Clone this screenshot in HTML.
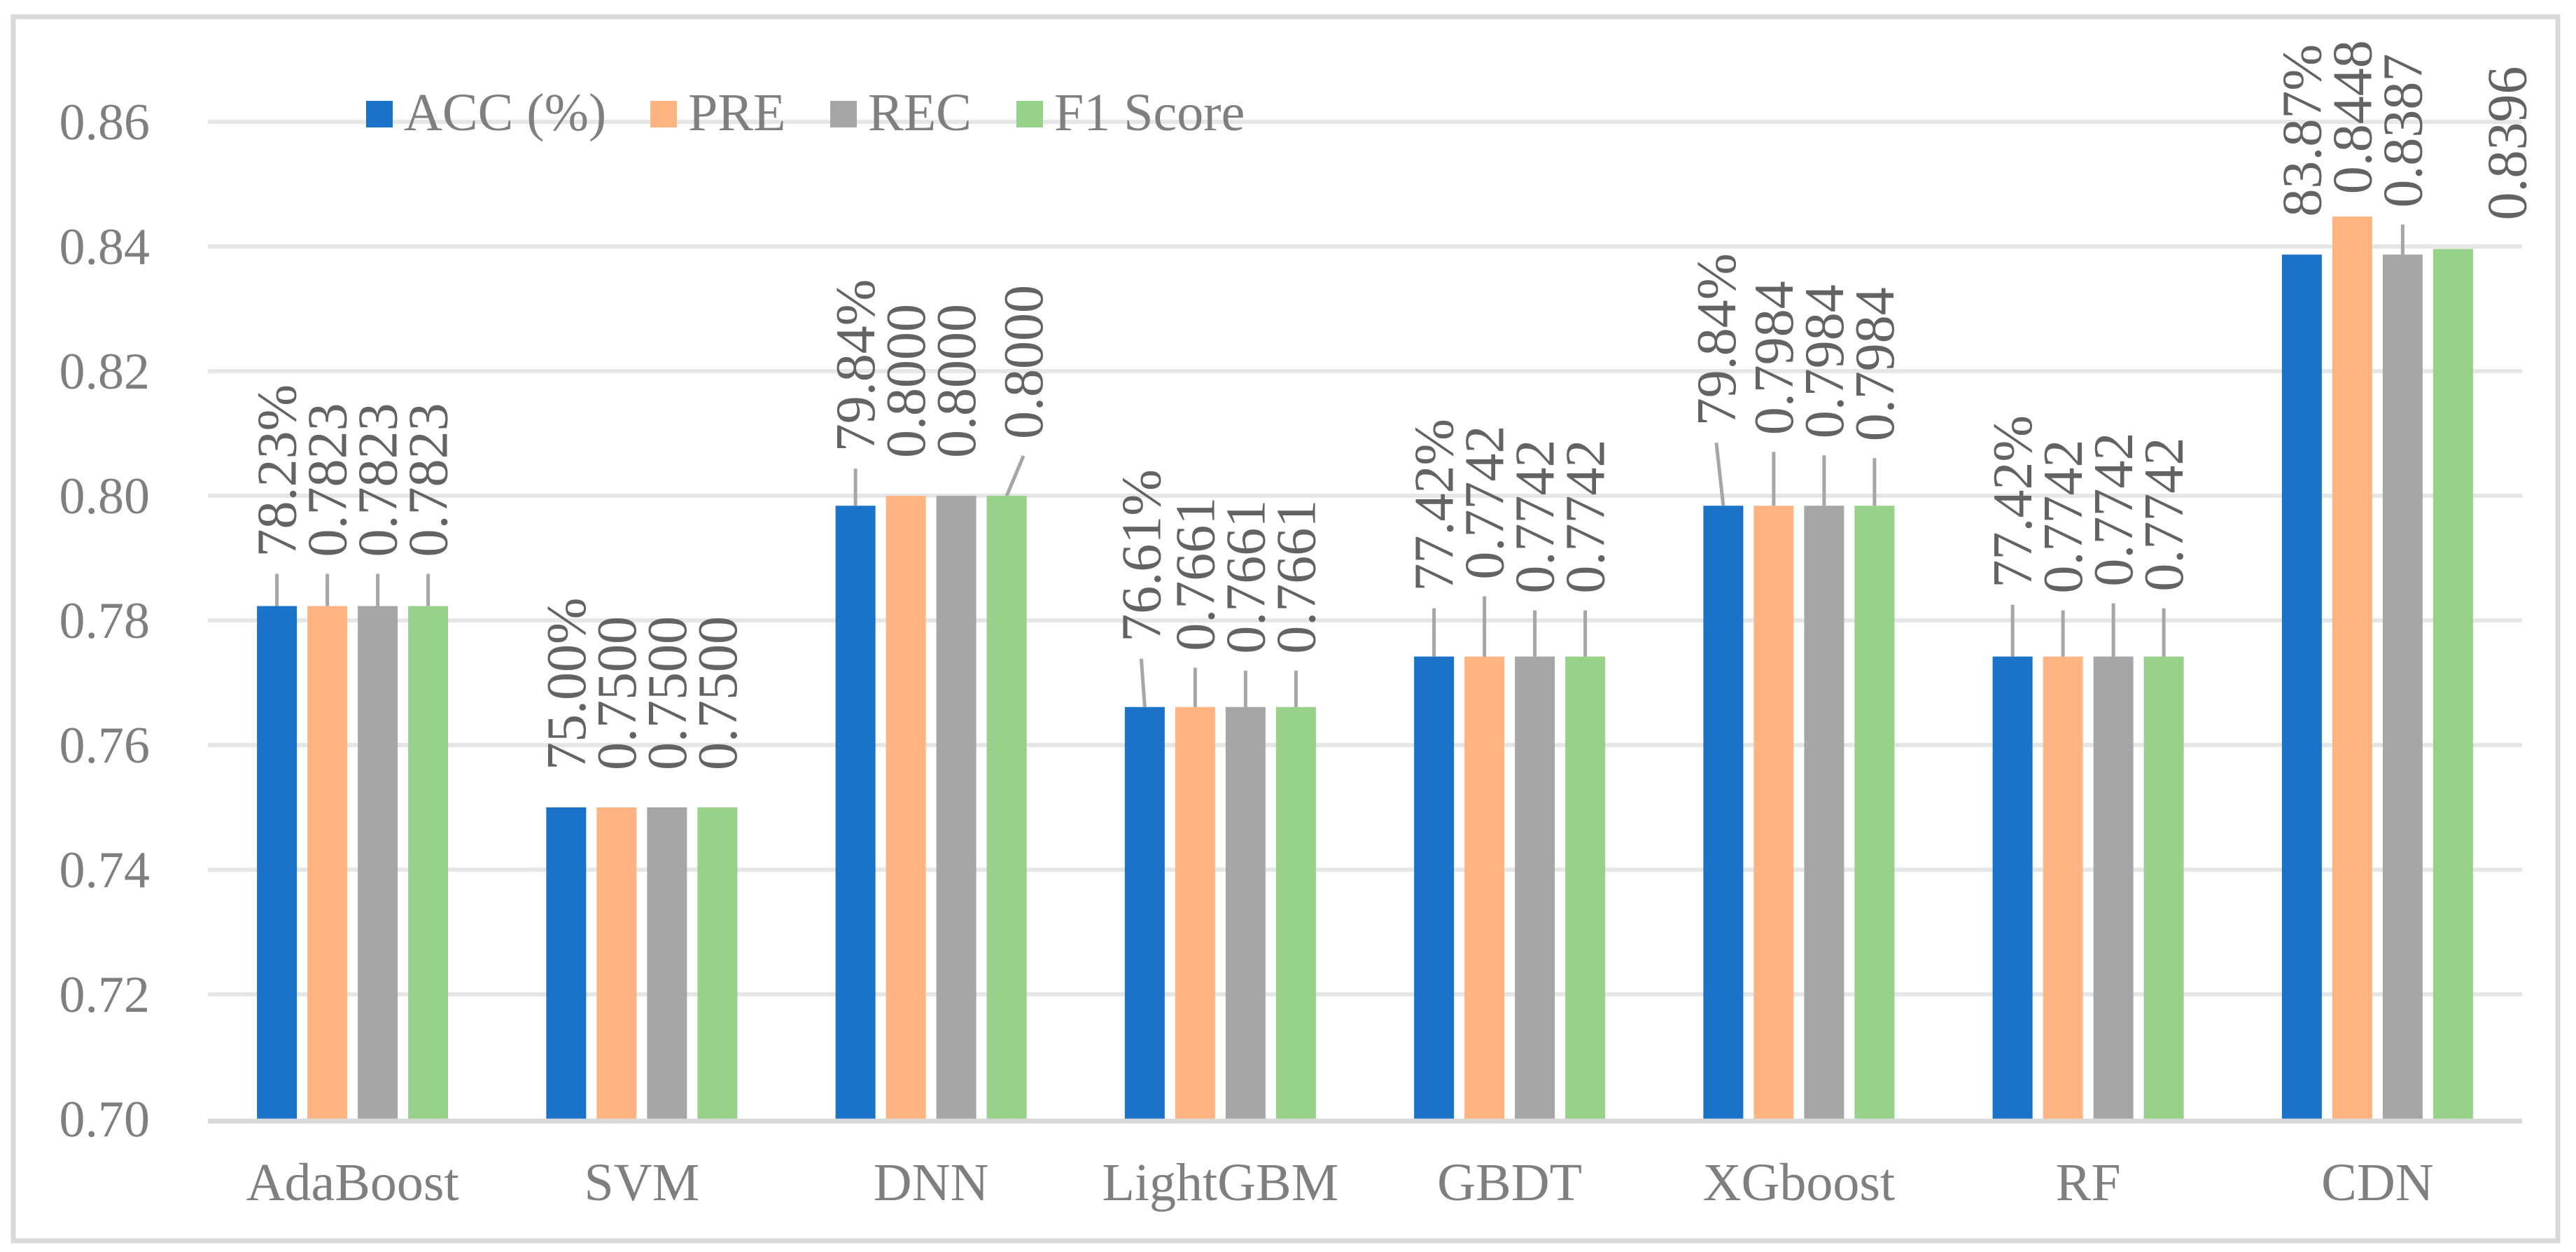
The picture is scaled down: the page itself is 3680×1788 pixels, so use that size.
<!DOCTYPE html>
<html><head><meta charset="utf-8"><style>
html,body{margin:0;padding:0;background:#fff;}
svg{display:block;}
svg, text{font-family:"Liberation Serif","Times New Roman",serif;}
</style></head><body>
<svg id="chart" width="3680" height="1788" viewBox="0 0 3680 1788" font-family="Liberation Serif, serif" xmlns="http://www.w3.org/2000/svg">
<rect x="19" y="24" width="3635" height="1748" fill="#fff" stroke="#d9d9d9" stroke-width="7"/>
<g id="grid"></g><g id="bars"></g><g id="labels"></g><g id="axes"></g><g id="legend"></g>
</svg>
<script>
const categories = ["AdaBoost","SVM","DNN","LightGBM","GBDT","XGboost","RF","CDN"];
const seriesNames = ["ACC (%)","PRE","REC","F1 Score"];
const accValues = [0.7823,0.7500,0.7984,0.7661,0.7742,0.7984,0.7742,0.8387];
const preValues = [0.7823,0.7500,0.8000,0.7661,0.7742,0.7984,0.7742,0.8448];
const recValues = [0.7823,0.7500,0.8000,0.7661,0.7742,0.7984,0.7742,0.8387];
const f1Values  = [0.7823,0.7500,0.8000,0.7661,0.7742,0.7984,0.7742,0.8396];
const accLabels = ["78.23%","75.00%","79.84%","76.61%","77.42%","79.84%","77.42%","83.87%"];
const yTicks = [0.70,0.72,0.74,0.76,0.78,0.80,0.82,0.84,0.86];
const yTickLabels = ["0.70","0.72","0.74","0.76","0.78","0.80","0.82","0.84","0.86"];

const colors = ["#1a73c8","#ffb482","#a6a6a6","#97d18a"];
const labelGap = [[70,70,70,70],[53,53,53,53],[77,54,54,81],[93,80,76,76],[93,110,90,90],[114,101,96,92],[98,90,100,93],[54,32,67,41]];
const labelDx  = [[0,0,0,0],[0,0,0,0],[0,0,0,24],[-5,0,0,0],[0,0,0,0],[-10,0,0,0],[0,0,0,0],[0,0,0,77]];

const NS="http://www.w3.org/2000/svg";
const FONT='"Liberation Serif", serif';
const plotL=297, plotR=3603, y0=1598, yPer=8900;
const catW=(plotR-plotL)/categories.length, barW=57, barStep=72;
function yScale(v){return y0-(v-0.70)*yPer;}
function xBar(ci,si){return plotL+ci*catW+catW/2-(barStep*1.5)-barW/2+si*barStep;}
function mk(tag,attrs,parent){const e=document.createElementNS(NS,tag);for(const k in attrs)e.setAttribute(k,attrs[k]);if(tag==='text')e.setAttribute('font-family',FONT);parent.appendChild(e);return e;}

const grid=document.getElementById('grid'), axes=document.getElementById('axes');
yTicks.forEach((t,i)=>{
  if(i>0){const l=mk('line',{x1:plotL,x2:plotR,y1:yScale(t),y2:yScale(t),stroke:'#e6e6e6','stroke-width':6},grid);
  
  }
  const tx=mk('text',{x:214,y:yScale(t)+25,'text-anchor':'end','font-size':74,fill:'#7f7f7f'},axes);
  tx.textContent=yTickLabels[i];
  
  
});
const series=[accValues,preValues,recValues,f1Values];
const bars=document.getElementById('bars'), labels=document.getElementById('labels');
categories.forEach((c,ci)=>{
  series.forEach((vals,si)=>{
    const v=vals[ci], x=xBar(ci,si), yt=yScale(v);
    const r=mk('rect',{x:x,y:yt,width:barW,height:y0-yt,fill:colors[si]},bars);
    
    
    const gap=labelGap[ci][si], dx=labelDx[ci][si];
    const cx=x+barW/2+dx, bottom=yt-gap;
    if(gap>=60){
      const ln=mk('line',{x1:cx,y1:bottom+24,x2:x+barW/2,y2:yt,stroke:'#a6a6a6','stroke-width':5},labels);
      
      
    }
    const txt=si===0?accLabels[ci]:v.toFixed(4);
    const t=mk('text',{x:0,y:0,'font-size':80,fill:'#636363',transform:'translate('+(cx+27)+','+bottom+') rotate(-90)'},labels);
    t.textContent=txt;
    
    
  });
  const xl=mk('text',{x:plotL+ci*catW+catW/2,y:1714,'text-anchor':'middle','font-size':76,fill:'#7f7f7f'},axes);
  xl.textContent=c;
  
  
});
const ax=mk('line',{x1:plotL,x2:plotR,y1:1601,y2:1601,stroke:'#d9d9d9','stroke-width':7},axes);



const legend=document.getElementById('legend');
const legX=[523,929,1186,1452];
seriesNames.forEach((n,i)=>{
  const g=mk('g',{},legend);
  
  
  mk('rect',{x:legX[i],y:144,width:38,height:38,fill:colors[i]},g);
  const t=mk('text',{x:legX[i]+54,y:186,'font-size':76,fill:'#7f7f7f'},g);
  t.textContent=n;
});
</script>
</body></html>
